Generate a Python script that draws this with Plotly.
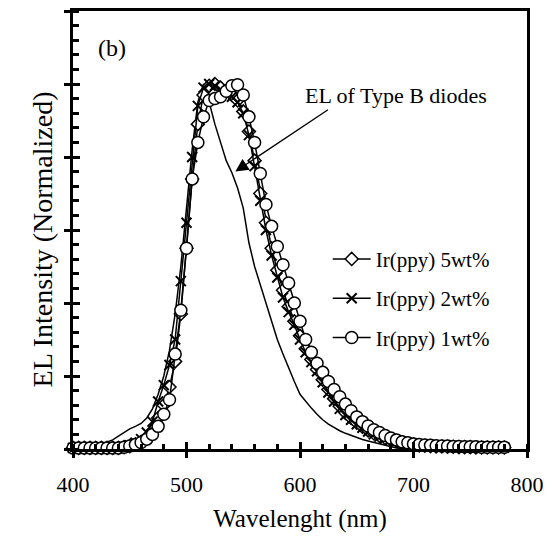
import plotly.graph_objects as go

wl = list(range(400, 781, 5))

ir5 = [0.003]*9 + [0.005, 0.008, 0.013, 0.02, 0.032, 0.05, 0.085, 0.12, 0.17, 0.24, 0.37, 0.55,
       0.74, 0.89, 0.97, 0.995, 1.0, 0.99, 0.98, 0.97, 0.955, 0.925, 0.87, 0.79, 0.70, 0.62,
       0.55, 0.49, 0.435, 0.39, 0.35, 0.31, 0.275, 0.245, 0.218, 0.19, 0.163, 0.138, 0.117,
       0.099, 0.085, 0.072, 0.061, 0.051, 0.043, 0.036, 0.030, 0.026, 0.022, 0.018, 0.015,
       0.013, 0.010, 0.009, 0.008, 0.007, 0.007, 0.006, 0.006, 0.005, 0.005, 0.005, 0.004,
       0.004, 0.004, 0.004, 0.004, 0.004]

ir2 = [0.003]*9 + [0.006, 0.010, 0.017, 0.027, 0.045, 0.075, 0.13, 0.175, 0.23, 0.30, 0.46, 0.62,
       0.80, 0.94, 0.99, 1.0, 0.995, 0.985, 0.975, 0.965, 0.95, 0.92, 0.86, 0.775, 0.68, 0.60,
       0.53, 0.47, 0.415, 0.375, 0.34, 0.30, 0.265, 0.238, 0.213, 0.183, 0.155, 0.130, 0.110,
       0.093, 0.080, 0.068, 0.058, 0.048, 0.040, 0.034, 0.029, 0.025, 0.021, 0.017, 0.014,
       0.012, 0.010, 0.009, 0.008, 0.007, 0.007, 0.006, 0.006, 0.005, 0.005, 0.005, 0.004,
       0.004, 0.004, 0.004, 0.004, 0.004]

ir1 = [0.003]*9 + [0.005, 0.008, 0.012, 0.018, 0.027, 0.040, 0.062, 0.095, 0.135, 0.26, 0.38, 0.55,
       0.74, 0.84, 0.91, 0.955, 0.96, 0.965, 0.98, 0.995, 0.998, 0.97, 0.91, 0.84, 0.755, 0.67,
       0.61, 0.555, 0.505, 0.455, 0.40, 0.35, 0.30, 0.265, 0.235, 0.21, 0.185, 0.163, 0.143,
       0.123, 0.105, 0.088, 0.075, 0.063, 0.053, 0.045, 0.037, 0.030, 0.025, 0.020, 0.017,
       0.014, 0.012, 0.011, 0.010, 0.009, 0.008, 0.008, 0.007, 0.007, 0.006, 0.006, 0.006,
       0.005, 0.005, 0.005, 0.005, 0.005]

wl_b = list(range(400, 701, 5))
type_b = [0.0, 0.002, 0.004, 0.006, 0.009, 0.013, 0.018, 0.025, 0.035, 0.045, 0.055, 0.062,
          0.070, 0.085, 0.11, 0.15, 0.20, 0.27, 0.37, 0.50, 0.66, 0.82, 0.95, 1.0, 0.95, 0.89,
          0.84, 0.79, 0.757, 0.715, 0.66, 0.565, 0.50, 0.45, 0.40, 0.35, 0.30, 0.26, 0.22,
          0.185, 0.15, 0.13, 0.112, 0.095, 0.08, 0.068, 0.058, 0.050, 0.043, 0.037, 0.031,
          0.026, 0.022, 0.018, 0.013, 0.009, 0.006, 0.003, 0.001, 0.0, 0.0]

FONT = "Liberation Serif"
fig = go.Figure()

fig.add_trace(go.Scatter(x=wl_b, y=type_b, mode="lines", line=dict(color="black", width=1.5),
                         showlegend=False, cliponaxis=False))
fig.add_trace(go.Scatter(x=wl, y=ir5, mode="lines+markers", name="Ir(ppy) 5wt%", legendgroup="a",
                         line=dict(color="black", width=1.5), cliponaxis=False,
                         marker=dict(symbol="diamond", size=10, color="white",
                                     line=dict(color="black", width=1.5))))
fig.add_trace(go.Scatter(x=wl, y=ir2, mode="lines+markers", name="Ir(ppy) 2wt%", legendgroup="b",
                         line=dict(color="black", width=1.5), cliponaxis=False,
                         marker=dict(symbol="x-thin", size=10, color="black",
                                     line=dict(color="black", width=2))))
fig.add_trace(go.Scatter(x=wl, y=ir1, mode="lines+markers", name="Ir(ppy) 1wt%", legendgroup="c",
                         line=dict(color="black", width=1.5), cliponaxis=False,
                         marker=dict(symbol="circle", size=12, color="white",
                                     line=dict(color="black", width=1.5))))
# dummy trace on overlay axes for crossing major ticks
fig.add_trace(go.Scatter(x=[None], y=[None], xaxis="x2", yaxis="y2", showlegend=False,
                         hoverinfo="skip"))

fig.update_layout(
    width=552, height=537,
    margin=dict(l=73, r=21, t=8, b=84),
    paper_bgcolor="white", plot_bgcolor="white",
    font=dict(family=FONT, color="black", size=21),
    xaxis=dict(range=[400, 800], dtick=100, ticks="outside", ticklen=6, tickwidth=3,
               tickcolor="black", showline=True, linewidth=3, linecolor="black", mirror=True,
               showgrid=False, zeroline=False, tickfont=dict(size=22, family=FONT),
               ticklabelstandoff=8,
               title=dict(text="Wavelenght (nm)", font=dict(size=25, family=FONT), standoff=14),
               minor=dict(dtick=20, ticks="inside", ticklen=5, tickwidth=2.5, tickcolor="black",
                          showgrid=False)),
    yaxis=dict(range=[0, 1.2], dtick=0.2, ticks="outside", ticklen=6, tickwidth=3,
               tickcolor="black", showline=True, linewidth=3, linecolor="black", mirror=True,
               showgrid=False, zeroline=False, showticklabels=False,
               minor=dict(dtick=0.04, ticks="inside", ticklen=6, tickwidth=2.5, tickcolor="black",
                          showgrid=False)),
    xaxis2=dict(overlaying="x", range=[400, 800], dtick=100, ticks="inside", ticklen=7,
                tickwidth=3, tickcolor="black", showticklabels=False, showgrid=False,
                zeroline=False, showline=False, side="bottom"),
    yaxis2=dict(overlaying="y", range=[0, 1.2], dtick=0.2, ticks="inside", ticklen=7,
                tickwidth=3, tickcolor="black", showticklabels=False, showgrid=False,
                zeroline=False, showline=False, side="left"),
    legend=dict(x=0.561, y=0.48, xanchor="left", yanchor="top", bgcolor="rgba(0,0,0,0)",
                font=dict(size=21, family=FONT), tracegroupgap=9, itemwidth=38),
    showlegend=True,
)

# y-axis title
fig.add_annotation(x=-0.105, y=0.478, xref="paper", yref="paper", text="EL Intensity (Normalized)",
                   textangle=-90, showarrow=False, font=dict(size=28, family=FONT))
fig.add_annotation(x=434, y=1.1, xref="x", yref="y", text="(b)", showarrow=False,
                   font=dict(size=24, family=FONT))
fig.add_annotation(x=685, y=0.968, xref="x", yref="y", text="EL of Type B diodes",
                   showarrow=False, font=dict(size=22, family=FONT))
fig.add_annotation(x=543, y=0.76, ax=626, ay=0.932, axref="x", ayref="y", xref="x", yref="y",
                   text="", showarrow=True, arrowhead=2, arrowsize=2,
                   arrowwidth=1.3, arrowcolor="black")

fig.write_html("out.html")
